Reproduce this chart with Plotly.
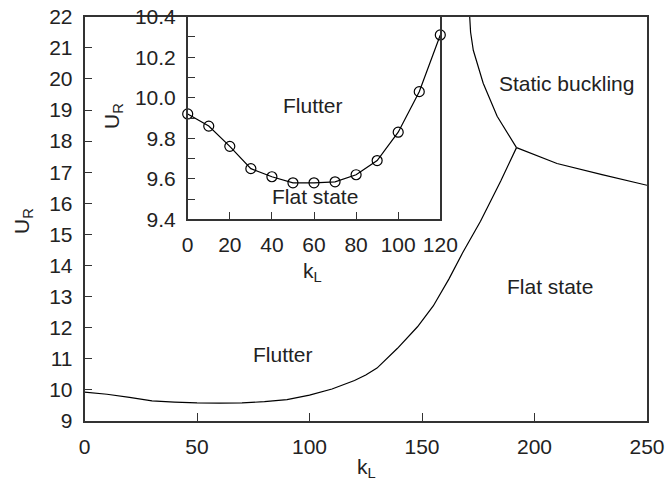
import plotly.graph_objects as go

# ---- data ----
# inset: flutter boundary (kL vs UR)
inset_k = [0, 10, 20, 30, 40, 50, 60, 70, 80, 90, 100, 110, 120]
inset_u = [9.92, 9.86, 9.76, 9.65, 9.61, 9.58, 9.58, 9.585, 9.62, 9.69, 9.83, 10.03, 10.31]

# main: flutter / flat-state boundary
flut_k = [0, 10, 20, 30, 40, 50, 60, 70, 80, 90, 100, 110, 120, 125, 130, 139, 148, 155, 162, 168, 176, 180, 185, 192]
flut_u = [9.93, 9.86, 9.76, 9.65, 9.61, 9.58, 9.575, 9.585, 9.62, 9.69, 9.83, 10.03, 10.30, 10.48,
          10.70, 11.33, 12.03, 12.70, 13.57, 14.40, 15.42, 16.0, 16.72, 17.79]

# main: static buckling / flutter boundary
sb_k = [171.2, 171.6, 172.8, 177.2, 183.4, 192]
sb_u = [22.0, 21.5, 20.92, 19.86, 18.80, 17.79]

# main: static buckling / flat-state boundary
sf_k = [192, 210, 230, 250]
sf_u = [17.79, 17.28, 16.92, 16.58]

main_xticks = [0, 50, 100, 150, 200, 250]
main_yticks = list(range(9, 23))
inset_xticks = [0, 20, 40, 60, 80, 100, 120]
inset_yticks = [9.4, 9.6, 9.8, 10.0, 10.2, 10.4]

W, H = 666, 486
FONT = "Liberation Sans, Arial, sans-serif"
TXT = "#222222"
AX = "#333333"

def px(xp):
    return xp / W

def py(yp):
    return 1 - yp / H

fig = go.Figure()

line = dict(color="black", width=1.2)
fig.add_trace(go.Scatter(x=flut_k, y=flut_u, mode="lines", line=line, xaxis="x", yaxis="y", showlegend=False))
fig.add_trace(go.Scatter(x=sb_k, y=sb_u, mode="lines", line=line, xaxis="x", yaxis="y", showlegend=False))
fig.add_trace(go.Scatter(x=sf_k, y=sf_u, mode="lines", line=line, xaxis="x", yaxis="y", showlegend=False))
fig.add_trace(go.Scatter(x=inset_k, y=inset_u, mode="lines+markers", line=line,
                         marker=dict(symbol="circle-open", size=10, color="black", line=dict(width=1.2)),
                         xaxis="x2", yaxis="y2", showlegend=False, cliponaxis=False))

axcommon = dict(showgrid=False, zeroline=False, showline=True, linecolor=AX, linewidth=1.5,
                mirror=True, ticks="inside", ticklen=8, tickcolor=AX, tickwidth=1.3,
                automargin=False,
                tickfont=dict(family=FONT, size=21, color=TXT))

fig.update_layout(
    width=W, height=H,
    margin=dict(l=0, r=0, t=0, b=0, autoexpand=False),
    plot_bgcolor="white", paper_bgcolor="white",
    xaxis=dict(domain=[px(84.5), px(647)], range=[0, 250], tickvals=main_xticks,
               ticklabelstandoff=6, anchor="y", **axcommon),
    yaxis=dict(domain=[py(421), py(16.7)], range=[9, 22], tickvals=main_yticks,
               ticklabelstandoff=6, anchor="x", **axcommon),
    xaxis2=dict(domain=[px(187.7), px(440.3)], range=[0, 120], tickvals=inset_xticks,
                ticklabelstandoff=6, anchor="y2", **axcommon),
    yaxis2=dict(domain=[py(219.3), py(16.7)], range=[9.4, 10.4], tickvals=inset_yticks,
                tickformat=".1f", ticklabelstandoff=6, anchor="x2",
                minor=dict(tickvals=[9.5, 9.7, 9.9, 10.1, 10.3], ticks="inside", ticklen=8,
                           tickcolor=AX, tickwidth=1.3),
                **axcommon),
)

f = dict(family=FONT, size=21, color=TXT)
c = dict(showarrow=False, font=f, xanchor="center", yanchor="middle")
ann = [
    # axis titles
    dict(text="k<sub>L</sub>", x=px(366), y=py(468), xref="paper", yref="paper", **c),
    dict(text="U<sub>R</sub>", x=px(23), y=py(221), xref="paper", yref="paper", textangle=-90, **c),
    dict(text="k<sub>L</sub>", x=px(312), y=py(272), xref="paper", yref="paper", **c),
    dict(text="U<sub>R</sub>", x=px(113), y=py(116), xref="paper", yref="paper", textangle=-90, **c),
    # region labels (main)
    dict(text="Static buckling", x=214, y=19.84, xref="x", yref="y", **c),
    dict(text="Flat state", x=207, y=13.32, xref="x", yref="y", **c),
    dict(text="Flutter", x=88, y=11.15, xref="x", yref="y", **c),
    # region labels (inset)
    dict(text="Flutter", x=59.5, y=9.964, xref="x2", yref="y2", **c),
    dict(text="Flat state", x=60.5, y=9.511, xref="x2", yref="y2", **c),
]
fig.update_layout(annotations=ann)

fig.write_html("out.html")
